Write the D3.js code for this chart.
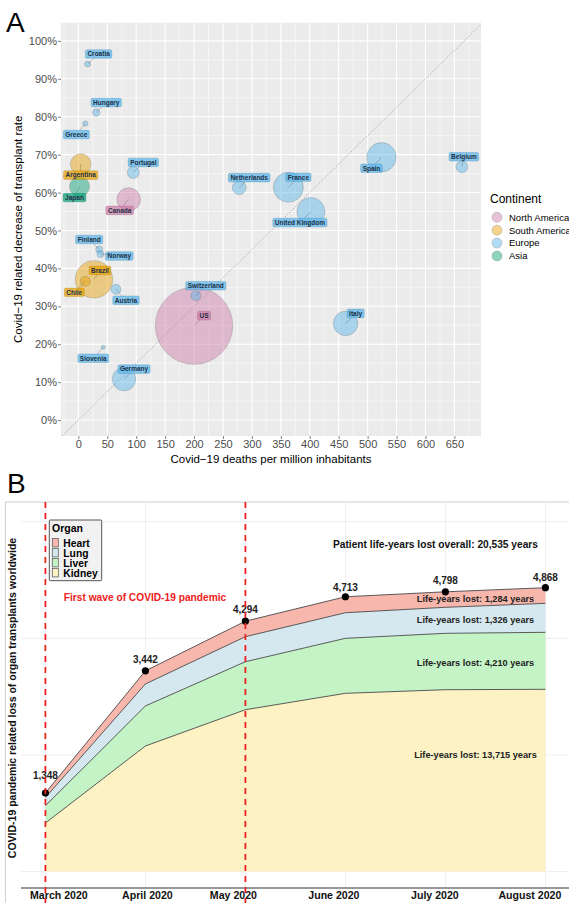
<!DOCTYPE html>
<html>
<head>
<meta charset="utf-8">
<script src="https://cdn.jsdelivr.net/npm/d3@7"></script>
<style>
body { margin: 0; background: #fff; }
svg { display: block; font-family: "Liberation Sans", Arial, sans-serif; }
</style>
</head>
<body>
<div id="chart"></div>
<script>
// ---- panel A data
var countries = ["Croatia", "Hungary", "Greece", "Argentina", "Japan", "Portugal", "Canada", "Netherlands",
    "France", "United Kingdom", "Spain", "Belgium", "Switzerland", "US", "Italy", "Finland", "Norway",
    "Brazil", "Chile", "Austria", "Slovenia", "Germany"]
var continentOf = ["Europe", "Europe", "Europe", "South America", "Asia", "Europe", "North America", "Europe",
    "Europe", "Europe", "Europe", "Europe", "Europe", "North America", "Europe", "Europe", "Europe",
    "South America", "South America", "Europe", "Europe", "Europe"]
var deathsPerMillion = [16, 31, 12, 4, 2, 95, 87, 278, 363, 402, 524, 663, 203, 200, 462, 36, 38, 27, 12, 65, 43, 79]
var decreasePct = [93.9, 81.1, 78.2, 67.5, 61.6, 65.3, 58.2, 61.3, 61.4, 55.0, 69.3, 66.8, 32.8, 24.9, 25.5,
    45.0, 43.8, 37.1, 36.6, 34.5, 19.2, 10.8]
var bubbleSize = [45, 68, 36, 530, 500, 180, 685, 245, 1125, 980, 1080, 180, 125, 7490, 756, 61, 61, 1750,
    125, 125, 20, 685]
var continents = ["North America", "South America", "Europe", "Asia"]
var xTicksA = d3.range(0, 651, 50)
var yTicksA = d3.range(0, 101, 10)

// ---- panel B data
var months = ["March 2020", "April 2020", "May 2020", "June 2020", "July 2020", "August 2020"]
var organs = ["Heart", "Lung", "Liver", "Kidney"]
var kidney = [833, 2154, 2776, 3057, 3119, 3126]
var liver = [297, 686, 823, 943, 967, 977]
var lung = [140, 377, 429, 439, 446, 497]
var heart = [78, 225, 266, 274, 266, 268]
var lifeYearsLost = [1284, 1326, 4210, 13715]   // heart, lung, liver, kidney
var lifeYearsOverall = 20535
var yTicksB = [0, 2000, 4000, 6000]

// layout only (label placement, px)
var labelNudge = {
    "Croatia": [11, -10], "Hungary": [10, -10], "Greece": [-9, 11], "Argentina": [0, 11], "Japan": [-5, 11],
    "Portugal": [10, -10], "Canada": [-9, 11], "Netherlands": [10, -10], "France": [10, -10],
    "United Kingdom": [-11, 11], "Spain": [-10, 11], "Belgium": [2, -10], "Switzerland": [10, -10],
    "US": [10, -10], "Italy": [10, -10], "Finland": [-10, -10], "Norway": [19, 2], "Brazil": [6, -9],
    "Chile": [-11, 11], "Austria": [10, 11], "Slovenia": [-10, 11], "Germany": [10, -10]
}
var totalDy = [-14, -8, -8, -6, -8, -7]
var monthDx = [13, 1.5, -12.5, -12, -11, -16]
var lifeLabelY = [601.7, 623.3, 665.5, 757.7]

var W = 569, H = 903
var colors = d3.scaleOrdinal().domain(continents).range(["#CC79A7", "#E69F00", "#56B4E9", "#009E73"])
var organColors = d3.scaleOrdinal().domain(organs).range(["#F7B7AD", "#D5E7EF", "#C4F3C6", "#FCF2C3"])

var svg = d3.select("#chart").append("svg")
    .attr("width", W)
    .attr("height", H)

// ================= PANEL A
var pA = {left: 61, right: 481, top: 22.7, bottom: 436}
var xA = d3.scaleLinear().domain([-30, 696]).range([pA.left, pA.right])
var yA = d3.scaleLinear().domain([-4.2, 104.8]).range([pA.bottom, pA.top])
var rA = d3.scaleSqrt().domain([0, 7490]).range([0, 38.7])

svg.append("defs").append("clipPath").attr("id", "clipA")
    .append("rect")
    .attr("x", pA.left).attr("y", pA.top)
    .attr("width", pA.right - pA.left).attr("height", pA.bottom - pA.top)

svg.append("rect")
    .attr("x", pA.left).attr("y", pA.top)
    .attr("width", pA.right - pA.left).attr("height", pA.bottom - pA.top)
    .attr("fill", "#EBEBEB")

var gridA = svg.append("g").attr("clip-path", "url(#clipA)")
// minor grid
gridA.selectAll(".mx").data(d3.range(-25, 700, 50)).enter().append("line")
    .attr("x1", d => xA(d)).attr("x2", d => xA(d))
    .attr("y1", pA.top).attr("y2", pA.bottom)
    .attr("stroke", "#fff").attr("stroke-width", 0.5)
gridA.selectAll(".my").data(d3.range(5, 100, 10)).enter().append("line")
    .attr("y1", d => yA(d)).attr("y2", d => yA(d))
    .attr("x1", pA.left).attr("x2", pA.right)
    .attr("stroke", "#fff").attr("stroke-width", 0.5)
// major grid
gridA.selectAll(".Mx").data(xTicksA).enter().append("line")
    .attr("x1", d => xA(d)).attr("x2", d => xA(d))
    .attr("y1", pA.top).attr("y2", pA.bottom)
    .attr("stroke", "#fff").attr("stroke-width", 1.1)
gridA.selectAll(".My").data(yTicksA).enter().append("line")
    .attr("y1", d => yA(d)).attr("y2", d => yA(d))
    .attr("x1", pA.left).attr("x2", pA.right)
    .attr("stroke", "#fff").attr("stroke-width", 1.1)

// diagonal reference line
gridA.append("line")
    .attr("x1", xA(-28)).attr("y1", yA(-4.2))
    .attr("x2", xA(700)).attr("y2", yA(105))
    .attr("stroke", "#9a9a9a").attr("stroke-width", 0.7)
    .attr("stroke-dasharray", "1.5,1.5")

var pts = countries.map(function(c, i) {
    return {name: c, cont: continentOf[i], x: deathsPerMillion[i], y: decreasePct[i], s: bubbleSize[i]}
})

var plotA = svg.append("g").attr("clip-path", "url(#clipA)")
plotA.selectAll("circle")
    .data(pts.slice().sort((a, b) => b.s - a.s))
    .enter().append("circle")
    .attr("cx", d => xA(d.x)).attr("cy", d => yA(d.y))
    .attr("r", d => rA(d.s))
    .attr("fill", d => colors(d.cont)).attr("fill-opacity", 0.45)
    .attr("stroke", "#666").attr("stroke-opacity", 0.45).attr("stroke-width", 0.6)

// repel-style labels
var labs = plotA.selectAll(".lab").data(pts).enter().append("g")
labs.append("line")
    .attr("x1", d => xA(d.x)).attr("y1", d => yA(d.y))
    .attr("x2", d => xA(d.x) + labelNudge[d.name][0] * 0.6)
    .attr("y2", d => yA(d.y) + labelNudge[d.name][1] * 0.6)
    .attr("stroke", "#333").attr("stroke-opacity", 0.5).attr("stroke-width", 0.5)
labs.each(function(d) {
    var g = d3.select(this)
    var cx = xA(d.x) + labelNudge[d.name][0]
    var cy = yA(d.y) + labelNudge[d.name][1]
    var rect = g.append("rect")
    var t = g.append("text")
        .attr("x", cx).attr("y", cy + 2.3)
        .attr("text-anchor", "middle")
        .attr("font-size", "6.5px").attr("font-weight", "bold")
        .attr("fill", "#1d2f45")
        .text(d.name)
    var w = t.node().getComputedTextLength()
    var c = d3.color(colors(d.cont))
    rect.attr("x", cx - w / 2 - 2).attr("y", cy - 4.3)
        .attr("width", w + 4).attr("height", 8.6)
        .attr("rx", 1.5)
        .attr("fill", colors(d.cont)).attr("fill-opacity", 0.7)
        .attr("stroke", c.darker(0.8)).attr("stroke-opacity", 0.6).attr("stroke-width", 0.5)
})

// axes A
var xAxisA = svg.append("g")
    .attr("transform", "translate(0," + pA.bottom + ")")
    .call(d3.axisBottom(xA).tickValues(xTicksA).tickSize(3).tickPadding(1.5))
var yAxisA = svg.append("g")
    .attr("transform", "translate(" + pA.left + ",0)")
    .call(d3.axisLeft(yA).tickValues(yTicksA).tickSize(3).tickPadding(1).tickFormat(d => d + "%"))
;[xAxisA, yAxisA].forEach(function(a) {
    a.select(".domain").remove()
    a.selectAll(".tick line").attr("stroke", "#333").attr("stroke-width", 0.6)
    a.selectAll(".tick text").attr("fill", "#4d4d4d").attr("font-size", "11px")
        .attr("font-family", "Liberation Sans, Arial, sans-serif")
})

svg.append("text")
    .attr("x", (pA.left + pA.right) / 2).attr("y", 463)
    .attr("text-anchor", "middle").attr("font-size", "11.5px").attr("fill", "#000")
    .text("Covid−19 deaths per million inhabitants")
svg.append("text")
    .attr("transform", "translate(22," + ((pA.top + pA.bottom) / 2) + ") rotate(-90)")
    .attr("text-anchor", "middle").attr("font-size", "11.5px").attr("fill", "#000")
    .text("Covid−19 related decrease of transplant rate")

svg.append("text").attr("x", 6).attr("y", 32)
    .attr("font-size", "28px").text("A")

// legend A
var legA = svg.append("g").attr("transform", "translate(490,0)")
legA.append("text").attr("x", 0).attr("y", 203)
    .attr("font-size", "12px").text("Continent")
continents.forEach(function(c, i) {
    var cy = 217.3 + i * 12.9
    legA.append("circle").attr("cx", 7).attr("cy", cy).attr("r", 5)
        .attr("fill", colors(c)).attr("fill-opacity", 0.45)
        .attr("stroke", "#666").attr("stroke-opacity", 0.45).attr("stroke-width", 0.6)
    legA.append("text").attr("x", 19).attr("y", cy + 3.3)
        .attr("font-size", "9.5px").text(c)
})

// ================= PANEL B
var pB = {left: 21, top: 502, bottom: 888}
var xB = d3.scalePoint().domain(months).range([45.4, 545.4])
var yB = d3.scaleLinear().domain([0, 6000]).range([871.6, 521.7])

// frame
svg.append("line").attr("x1", 5.4).attr("x2", W).attr("y1", pB.top).attr("y2", pB.top)
    .attr("stroke", "#cfcfcf").attr("stroke-width", 1)
svg.append("line").attr("x1", 5.4).attr("x2", 5.4).attr("y1", pB.top).attr("y2", H)
    .attr("stroke", "#cfcfcf").attr("stroke-width", 1)

// grid B
svg.append("g").selectAll("line").data(yTicksB).enter().append("line")
    .attr("x1", pB.left).attr("x2", W)
    .attr("y1", d => yB(d)).attr("y2", d => yB(d))
    .attr("stroke", "#ebebeb").attr("stroke-width", 0.9)
svg.append("g").selectAll("line").data(months).enter().append("line")
    .attr("x1", d => xB(d)).attr("x2", d => xB(d))
    .attr("y1", pB.top).attr("y2", pB.bottom)
    .attr("stroke", "#ebebeb").attr("stroke-width", 0.9)

var rows = months.map(function(m, i) {
    return {month: m, Kidney: kidney[i], Liver: liver[i], Lung: lung[i], Heart: heart[i]}
})
var stack = d3.stack().keys(["Kidney", "Liver", "Lung", "Heart"])
var layers = stack(rows)

var area = d3.area()
    .x(d => xB(d.data.month))
    .y0(d => yB(d[0]))
    .y1(d => yB(d[1]))
var topLine = d3.line()
    .x(d => xB(d.data.month))
    .y(d => yB(d[1]))

svg.append("g").selectAll("path").data(layers).enter().append("path")
    .attr("d", area)
    .attr("fill", d => organColors(d.key))
svg.append("g").selectAll("path").data(layers).enter().append("path")
    .attr("d", topLine)
    .attr("fill", "none").attr("stroke", "#4a4a4a").attr("stroke-width", 0.9)

// totals
var totals = layers[layers.length - 1]
svg.append("g").selectAll("circle").data(totals).enter().append("circle")
    .attr("cx", d => xB(d.data.month)).attr("cy", d => yB(d[1]))
    .attr("r", 3.6).attr("fill", "#000")
svg.append("g").selectAll("text").data(totals).enter().append("text")
    .attr("x", d => xB(d.data.month)).attr("y", (d, i) => yB(d[1]) + totalDy[i])
    .attr("text-anchor", "middle").attr("font-size", "10px").attr("font-weight", "bold")
    .attr("fill", "#222")
    .text(d => d3.format(",")(d[1]))

// x axis B
var xAxisB = svg.append("g")
    .attr("transform", "translate(0," + pB.bottom + ")")
    .call(d3.axisBottom(xB).tickSize(0).tickPadding(3.5))
xAxisB.select(".domain").remove()
xAxisB.selectAll(".tick text")
    .attr("font-size", "10.6px").attr("font-weight", "bold").attr("fill", "#111")
    .attr("font-family", "Liberation Sans, Arial, sans-serif")
    .attr("dx", (d, i) => monthDx[i])
svg.append("line").attr("x1", pB.left).attr("x2", W).attr("y1", pB.bottom).attr("y2", pB.bottom)
    .attr("stroke", "#333").attr("stroke-width", 1)

// first wave dashes
svg.append("g").selectAll("line").data([months[0], months[2]]).enter().append("line")
    .attr("x1", d => xB(d)).attr("x2", d => xB(d))
    .attr("y1", pB.top).attr("y2", H)
    .attr("stroke", "#ee2020").attr("stroke-width", 1.8)
    .attr("stroke-dasharray", "6,5")

svg.append("text")
    .attr("x", 145).attr("y", 600.5)
    .attr("text-anchor", "middle").attr("font-size", "10.2px").attr("font-weight", "bold")
    .attr("fill", "#ee2020")
    .text("First wave of COVID-19 pandemic")

// life-years labels
var fmt = d3.format(",")
organs.forEach(function(o, i) {
    svg.append("text")
        .attr("x", 475.5).attr("y", lifeLabelY[i])
        .attr("text-anchor", "middle").attr("font-size", "9.2px").attr("font-weight", "bold")
        .attr("fill", "#222")
        .text("Life-years lost: " + fmt(lifeYearsLost[i]) + " years")
})
svg.append("text")
    .attr("x", 435.5).attr("y", 548.3)
    .attr("text-anchor", "middle").attr("font-size", "10.2px").attr("font-weight", "bold")
    .attr("fill", "#111")
    .text("Patient life-years lost overall: " + fmt(lifeYearsOverall) + " years")

// y title B
svg.append("text")
    .attr("transform", "translate(15.5,698) rotate(-90)")
    .attr("text-anchor", "middle").attr("font-size", "10.5px").attr("font-weight", "bold")
    .attr("fill", "#111")
    .text("COVID-19 pandemic related loss of organ transplants worldwide")

svg.append("text").attr("x", 7).attr("y", 493)
    .attr("font-size", "28px").text("B")

// organ legend
var legB = svg.append("g")
legB.append("rect").attr("x", 49.3).attr("y", 520).attr("width", 52.4).attr("height", 60.7)
    .attr("fill", "#f2f2f2").attr("stroke", "#555").attr("stroke-width", 1).attr("rx", 1)
legB.append("text").attr("x", 52).attr("y", 531.5)
    .attr("font-size", "10.5px").attr("font-weight", "bold").text("Organ")
organs.forEach(function(o, i) {
    var cy = 542.7 + i * 10
    legB.append("rect").attr("x", 52.3).attr("y", cy - 4.2).attr("width", 6).attr("height", 8.4)
        .attr("fill", organColors(o)).attr("stroke", "#555").attr("stroke-width", 0.7)
    legB.append("text").attr("x", 63.3).attr("y", cy + 3.9)
        .attr("font-size", "10.3px").attr("font-weight", "bold").text(o)
})
</script>
</body>
</html>
